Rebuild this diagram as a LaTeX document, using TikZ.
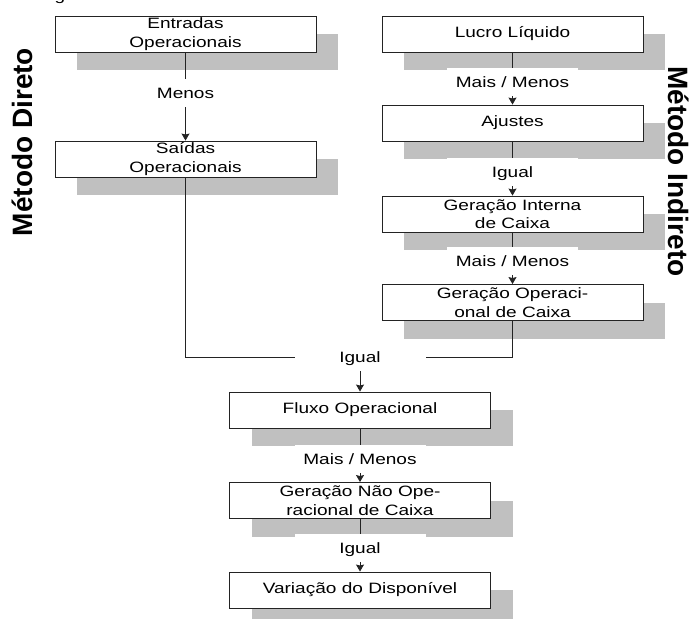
\documentclass[tikz,border=0pt]{standalone}
\usepackage{fontspec}
\setmainfont{Liberation Sans}[FakeStretch=1.27]
\newfontfamily\titlefont{Liberation Sans}
\usetikzlibrary{arrows.meta,shadows}
\definecolor{shadowgray}{RGB}{192,192,192}
\definecolor{linegray}{RGB}{35,35,35}
\tikzset{
  box/.style={draw=linegray, line width=0.9pt, fill=white, minimum width=261pt,
    minimum height=36pt, inner sep=0pt, align=center,
    font=\fontsize{15}{18.5}\selectfont,
    drop shadow={shadow xshift=22pt, shadow yshift=-18pt, fill=shadowgray, opacity=1, draw=none}},
  lbl/.style={fill=white, minimum width=131pt, minimum height=28pt, inner sep=0pt,
    text height=10.7pt, text depth=0pt, font=\fontsize{15}{18.5}\selectfont},
  conn/.style={draw=linegray, line width=0.9pt},
  arr/.style={conn, -{Stealth[length=7pt,width=8pt,inset=1pt]}},
  sidetitle/.style={font=\titlefont\bfseries\fontsize{28}{28}\selectfont, anchor=base, inner sep=0pt}
}
\begin{document}
\begin{tikzpicture}[x=1pt,y=-1pt]
\useasboundingbox (0,0) rectangle (689,619);
% fragment of a text above the crop
\node[anchor=base, inner sep=0pt, font=\fontsize{15}{18.5}\selectfont] (frag) at (60,0) {g};
% side titles
\node[sidetitle, rotate=90] (t1) at (32,142) {Método Direto};
\node[sidetitle, rotate=-90] (t2) at (668,171.5) {Método Indireto};
% boxes
\node[box] (E) at (185.5,34) {Entradas\\Operacionais};
\node[box] (S) at (185.5,159) {Saídas\\Operacionais};
\node[box] (L) at (512.5,34) {Lucro Líquido};
\node[box] (A) at (512.5,123) {Ajustes};
\node[box] (GI) at (512.5,214) {Geração Interna\\de Caixa};
\node[box] (GO) at (512.5,302.5) {Geração Operaci-\\onal de Caixa};
\node[box] (F) at (360,410) {Fluxo Operacional};
\node[box] (GN) at (360,500.5) {Geração Não Ope-\\racional de Caixa};
\node[box] (V) at (360,590) {Variação do Disponível};
% connectors
\coordinate (J) at (360,357);
\draw[arr] (E.south) -- (S.north);
\draw[arr] (L.south) -- (A.north);
\draw[arr] (A.south) -- (GI.north);
\draw[arr] (GI.south) -- (GO.north);
\draw[conn] (S.south) |- (J);
\draw[conn] (GO.south) |- (J);
\draw[arr] (J) -- (F.north);
\draw[arr] (F.south) -- (GN.north);
\draw[arr] (GN.south) -- (V.north);
% labels
\node[lbl] (l1) at (185.5,93) {Menos};
\node[lbl] (l2) at (512.5,82) {Mais / Menos};
\node[lbl] (l3) at (512.5,172) {Igual};
\node[lbl] (l4) at (512.5,261) {Mais / Menos};
\node[lbl] (l5) at (J) {Igual};
\node[lbl] (l6) at (360,459) {Mais / Menos};
\node[lbl] (l7) at (360,548) {Igual};
\end{tikzpicture}
\end{document}
